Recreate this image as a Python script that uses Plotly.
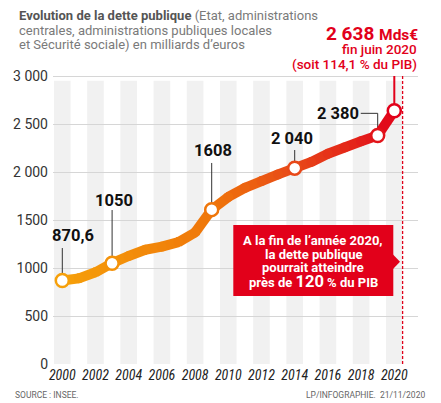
import plotly.graph_objects as go

# ---------------- data ----------------
years = [2000, 2001, 2002, 2003, 2004, 2005, 2006, 2007, 2008, 2009, 2010,
         2011, 2012, 2013, 2014, 2015, 2016, 2017, 2018, 2019, 2020]
debt = [870.6, 892, 955, 1050, 1125, 1190, 1222, 1270, 1370, 1608, 1740,
        1835, 1905, 1975, 2040, 2105, 2190, 2255, 2320, 2380, 2638]
label_years = [2000, 2003, 2009, 2014, 2019, 2020]
label_values = [870.6, 1050, 1608, 2040, 2380, 2638]
label_texts = ["870,6", "1050", "1608", "2 040", "2 380"]
y_tickvals = [0, 500, 1000, 1500, 2000, 2500, 3000]
y_ticktext = ["0", "500", "1000", "1500", "2 000", "2 500", "3 000"]
x_tickvals = list(range(2000, 2021, 2))
stripe_years = list(range(2000, 2021, 2))

# ---------------- layout geometry ----------------
W, H = 441, 403
L, R, T, PB = 53, 23, 66, 365
PW, PH = W - L - R, PB - T
YPX = 0.096           # px per unit
y_lo = -(PB - 364) / YPX
y_hi = y_lo + PH / YPX
x_lo = 2000 - (62.3 - L) / 16.6
x_hi = x_lo + PW / 16.6

def gx(px):
    return (px - L) / PW

def gy(py):
    return (PB - py) / PH

RED = "#e2001a"

def grad(x):
    stops = [(2000, (246, 160, 10)), (2009, (239, 118, 10)),
             (2014, (232, 72, 24)), (2019, (226, 20, 26)), (2020, (226, 0, 26))]
    for (a, ca), (b, cb) in zip(stops[:-1], stops[1:]):
        if a <= x <= b:
            t = (x - a) / (b - a)
            c = [round(ca[i] + (cb[i] - ca[i]) * t) for i in range(3)]
            return "rgb(%d,%d,%d)" % tuple(c)
    return "rgb(226,0,26)"

fig = go.Figure()

# thick gradient line, one segment per year
for i in range(len(years) - 1):
    c = grad((years[i] + years[i + 1]) / 2)
    fig.add_trace(go.Scatter(x=years[i:i + 2], y=debt[i:i + 2], mode="lines",
                             line=dict(color=c, width=10), hoverinfo="skip",
                             showlegend=False))
fig.add_trace(go.Scatter(x=years, y=debt, mode="markers",
                         marker=dict(size=10, color=[grad(x) for x in years]),
                         hoverinfo="skip", showlegend=False))
# labelled points
fig.add_trace(go.Scatter(x=label_years, y=label_values, mode="markers",
                         marker=dict(size=13, color="white",
                                     line=dict(width=2.5, color=[grad(x) for x in label_years])),
                         hoverinfo="skip", showlegend=False))

shapes = []
# stripes
for yv in stripe_years:
    shapes.append(dict(type="rect", xref="x", yref="y", x0=yv - 0.5, x1=yv + 0.5,
                       y0=0, y1=2950, fillcolor="#f1f1f1", line=dict(width=0),
                       layer="below"))
# dashed end-of-2020 line
shapes.append(dict(type="line", xref="x", yref="y", x0=2020.5, x1=2020.5,
                   y0=0, y1=3010, line=dict(color=RED, width=1.3, dash="3px,2px"),
                   layer="between"))
# red leader to top-right note
shapes.append(dict(type="line", xref="x", yref="y", x0=2020, x1=2020,
                   y0=label_values[5], y1=3000, line=dict(color=RED, width=2),
                   layer="between"))
# leader lines for labels
lead = dict(color="#333333", width=1)
shapes.append(dict(type="line", xref="x", yref="y", x0=2000, x1=2000, y0=label_values[0], y1=1208, line=lead, layer="between"))
shapes.append(dict(type="line", xref="x", yref="y", x0=2003, x1=2003, y0=label_values[1], y1=1604, line=lead, layer="between"))
shapes.append(dict(type="line", xref="x", yref="y", x0=2009, x1=2009, y0=label_values[2], y1=2094, line=lead, layer="between"))
shapes.append(dict(type="line", xref="x", yref="y", x0=2014, x1=2014, y0=label_values[3], y1=2229, line=lead, layer="between"))
shapes.append(dict(type="path", xref="x", yref="y",
                   path="M 2017.98,2611 L 2019,2611 L 2019,%s" % label_values[4],
                   line=lead, layer="between"))
# callout box
shapes.append(dict(type="rect", xref="paper", yref="paper", x0=gx(233.3), x1=gx(393.3),
                   y0=gy(296), y1=gy(225), fillcolor=RED, line=dict(width=0), layer="above"))
shapes.append(dict(type="path", xref="paper", yref="paper",
                   path="M %f,%f L %f,%f L %f,%f Z" % (gx(393), gy(254.5), gx(400), gy(261.7), gx(393), gy(269)),
                   fillcolor=RED, line=dict(width=0), layer="above"))

ann = []
lab_font = dict(family="Roboto", size=16.5, color="#111111", weight="bold")
lab_pos = [(72.7, 235.7), (114, 200.7), (213, 150), (292, 138.3), (337.5, 113.3)]
for txt, (px, py) in zip(label_texts, lab_pos):
    ann.append(dict(text=txt, xref="paper", yref="paper", x=gx(px), y=gy(py),
                    xanchor="center", yanchor="middle", showarrow=False, font=lab_font))

# title
tfont = dict(family="Roboto", size=13, color="#7a7a7a")
title_lines = ["<span style='color:#555555'><b>Evolution de la dette publique</b></span> (Etat, administrations",
               "centrales, administrations publiques locales",
               "et Sécurité sociale) en milliards d’euros"]
for i, t in enumerate(title_lines):
    ann.append(dict(text=t, xref="paper", yref="paper", x=gx(17), y=gy([15.7, 30.3, 44.5][i]),
                    xanchor="left", yanchor="middle", showarrow=False, font=tfont))

# top-right note
ann.append(dict(text="<b>2 638 <span style='font-size:15.5px'>Mds€</span></b>", xref="paper", yref="paper",
                x=gx(420), y=gy(33), xanchor="right", yanchor="middle", showarrow=False,
                font=dict(family="Roboto", size=19, color=RED)))
ann.append(dict(text="fin juin 2020", xref="paper", yref="paper",
                x=gx(419), y=gy(49.5), xanchor="right", yanchor="middle", showarrow=False,
                font=dict(family="Roboto", size=13.5, color=RED, weight=500)))
ann.append(dict(text="(soit 114,1 % du PIB)", xref="paper", yref="paper",
                x=gx(419), y=gy(64.3), xanchor="right", yanchor="middle", showarrow=False,
                font=dict(family="Roboto", size=13.5, color=RED, weight=500)))

# callout text
cfont = dict(family="Roboto", size=13, color="white", weight="bold")
call_lines = ["A la fin de l’année 2020,", "la dette publique", "pourrait atteindre",
              "près de <span style='font-size:16.5px'>120</span> % du PIB"]
for t, py in zip(call_lines, [240.7, 254, 267.5, 281.5]):
    ann.append(dict(text=t, xref="paper", yref="paper", x=gx(313), y=gy(py),
                    xanchor="center", yanchor="middle", showarrow=False, font=cfont))

# source
sfont = dict(family="Roboto", size=8.5, color="#666666")
ann.append(dict(text="SOURCE : INSEE.", xref="paper", yref="paper", x=gx(13), y=gy(395),
                xanchor="left", yanchor="middle", showarrow=False, font=sfont))
ann.append(dict(text="LP/INFOGRAPHIE.  21/11/2020", xref="paper", yref="paper", x=gx(427), y=gy(395),
                xanchor="right", yanchor="middle", showarrow=False, font=sfont))

fig.update_layout(
    width=W, height=H, margin=dict(l=L, r=R, t=T, b=H - PB),
    paper_bgcolor="white", plot_bgcolor="white",
    shapes=shapes, annotations=ann, showlegend=False,
    xaxis=dict(range=[x_lo, x_hi], tickvals=x_tickvals, ticktext=[str(v) for v in x_tickvals],
               showgrid=False, zeroline=False, showline=False, ticks="",
               tickfont=dict(family="Liberation Sans Narrow, Roboto Condensed, DejaVu Sans Condensed, Roboto",
                             size=14, color="#222222", style="italic"),
               fixedrange=True),
    yaxis=dict(range=[y_lo, y_hi], tickvals=y_tickvals, ticktext=y_ticktext,
               showgrid=True, gridcolor="#d6d6d6", gridwidth=1, zeroline=False,
               showline=False, ticks="", ticklabelstandoff=4,
               tickfont=dict(family="Roboto", size=14, color="#333333"),
               fixedrange=True),
)

fig.write_html("out.html", config={"displayModeBar": False},
               post_script="document.body.style.margin='0';document.body.style.overflow='hidden';")
